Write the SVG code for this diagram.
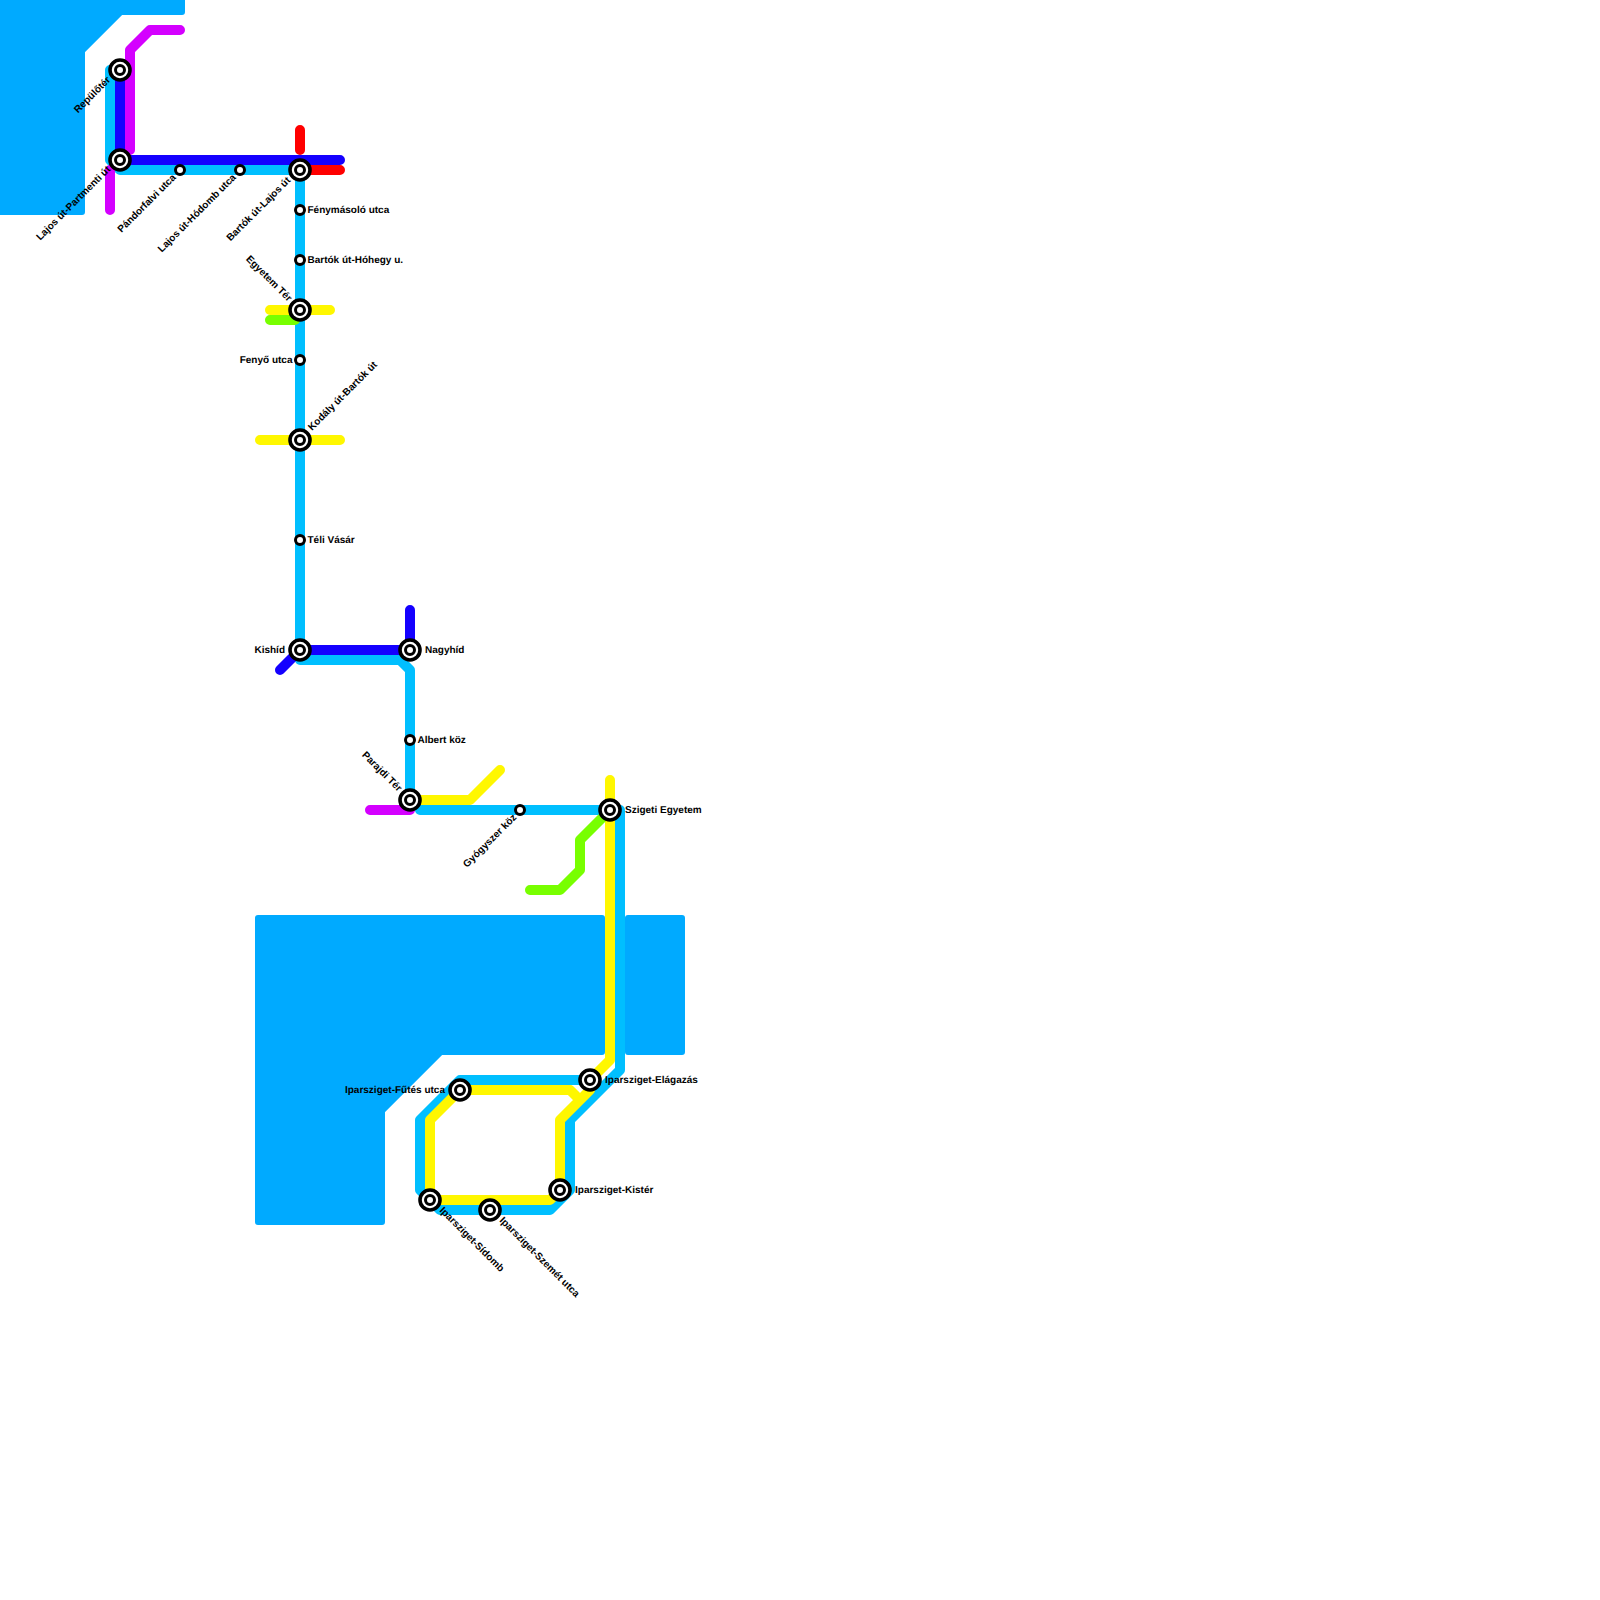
<svg xmlns="http://www.w3.org/2000/svg" width="1600" height="1600" viewBox="0 0 1600 1600">
<style>
.w{fill:#00aaff;stroke:#00aaff;stroke-width:6;stroke-linejoin:round}
.l{fill:none;stroke-width:10;stroke-linecap:round;stroke-linejoin:round}
.c{stroke:#00bfff}.y{stroke:#fff700}.b{stroke:#1400ff}.p{stroke:#d400ff}.r{stroke:#ff0000}.g{stroke:#78ff00}
.o{fill:#fff;stroke:#000;stroke-width:3.6}.i{fill:#fff;stroke:#000;stroke-width:3}.s{fill:#fff;stroke:#000;stroke-width:3}
text{font-family:"Liberation Sans",Arial,sans-serif;font-size:10px;font-weight:700;fill:#000;text-rendering:geometricPrecision}
.e{text-anchor:end}
</style>
<g id="water">
<path class="w" d="M-5-5H182V12H121L82 51V212H-5Z"/>
<path class="w" d="M258 918H602V1052H441L382 1111V1222H258Z"/>
<path class="w" d="M628 918H682V1052H628Z"/>
</g>
<g id="connectors">
<path class="l c" d="M110 70V160L120 170H300V660H400L410 670V800M420 810H620V1070L570 1120V1190L550 1210H440L420 1190V1120L460 1080H590"/>
<path class="l p" d="M130 150V50L150 30H180M110 170V210M370 810H410"/>
<path class="l b" d="M120 70V160H340M280 670L300 650H410V610"/>
<path class="l r" d="M300 130V150M300 170H340"/>
<path class="l y" d="M270 310H330M260 440H340M410 800H470L500 770M610 780V1060L590 1080V1090L560 1120V1190L550 1200H430V1120L460 1090H570L580 1100"/>
<path class="l g" d="M270 320H295M530 890H560L580 870V840L610 810"/>
</g>
<g id="n1"><circle class="o" cx="120" cy="70" r="10"/><circle class="i" cx="120" cy="70" r="4.500"/><text class="e" transform="translate(111 80.500) rotate(-45)">Repülőtér</text></g>
<g id="n2"><circle class="o" cx="120" cy="160" r="10"/><circle class="i" cx="120" cy="160" r="4.500"/><text class="e" transform="translate(111 170) rotate(-45)">Lajos út-Partmenti út</text></g>
<g id="n3"><circle class="s" cx="180" cy="170" r="4.500"/><text class="e" transform="translate(176.500 178) rotate(-45)">Pándorfalvi utca</text></g>
<g id="n4"><circle class="s" cx="240" cy="170" r="4.500"/><text class="e" transform="translate(236.500 178) rotate(-45)">Lajos út-Hódomb utca</text></g>
<g id="n5"><circle class="o" cx="300" cy="170" r="10"/><circle class="i" cx="300" cy="170" r="4.500"/><text class="e" transform="translate(291 181) rotate(-45)">Bartók út-Lajos út</text></g>
<g id="n6"><circle class="s" cx="300" cy="210" r="4.500"/><text x="307.500" y="212.500">Fénymásoló utca</text></g>
<g id="n7"><circle class="s" cx="300" cy="260" r="4.500"/><text x="307.500" y="262.500">Bartók út-Hóhegy u.</text></g>
<g id="n8"><circle class="o" cx="300" cy="310" r="10"/><circle class="i" cx="300" cy="310" r="4.500"/><text class="e" transform="translate(288 302) rotate(45)">Egyetem Tér</text></g>
<g id="n9"><circle class="s" cx="300" cy="360" r="4.500"/><text class="e" x="292.500" y="362.500">Fenyő utca</text></g>
<g id="n10"><circle class="o" cx="300" cy="440" r="10"/><circle class="i" cx="300" cy="440" r="4.500"/><text transform="translate(312 431) rotate(-45)">Kodály út-Bartók út</text></g>
<g id="n11"><circle class="s" cx="300" cy="540" r="4.500"/><text x="307.500" y="542.500">Téli Vásár</text></g>
<g id="n12"><circle class="o" cx="300" cy="650" r="10"/><circle class="i" cx="300" cy="650" r="4.500"/><text class="e" x="285" y="652.500">Kishíd</text></g>
<g id="n13"><circle class="o" cx="410" cy="650" r="10"/><circle class="i" cx="410" cy="650" r="4.500"/><text x="425" y="652.500">Nagyhíd</text></g>
<g id="n14"><circle class="s" cx="410" cy="740" r="4.500"/><text x="417.500" y="742.500">Albert köz</text></g>
<g id="n15"><circle class="o" cx="410" cy="800" r="10"/><circle class="i" cx="410" cy="800" r="4.500"/><text class="e" transform="translate(398 792) rotate(45)">Parajdi Tér</text></g>
<g id="n16"><circle class="s" cx="520" cy="810" r="4.500"/><text class="e" transform="translate(517 818) rotate(-45)">Gyógyszer köz</text></g>
<g id="n17"><circle class="o" cx="610" cy="810" r="10"/><circle class="i" cx="610" cy="810" r="4.500"/><text x="625" y="812.500">Szigeti Egyetem</text></g>
<g id="n18"><circle class="o" cx="590" cy="1080" r="10"/><circle class="i" cx="590" cy="1080" r="4.500"/><text x="605" y="1082.500">Iparsziget-Elágazás</text></g>
<g id="n19"><circle class="o" cx="460" cy="1090" r="10"/><circle class="i" cx="460" cy="1090" r="4.500"/><text class="e" x="445" y="1092.500">Iparsziget-Fűtés utca</text></g>
<g id="n20"><circle class="o" cx="430" cy="1200" r="10"/><circle class="i" cx="430" cy="1200" r="4.500"/><text transform="translate(439 1211) rotate(45)">Iparsziget-Sídomb</text></g>
<g id="n21"><circle class="o" cx="490" cy="1210" r="10"/><circle class="i" cx="490" cy="1210" r="4.500"/><text transform="translate(499 1221) rotate(45)">Iparsziget-Szemét utca</text></g>
<g id="n22"><circle class="o" cx="560" cy="1190" r="10"/><circle class="i" cx="560" cy="1190" r="4.500"/><text x="575" y="1192.500">Iparsziget-Kistér</text></g>
</svg>
